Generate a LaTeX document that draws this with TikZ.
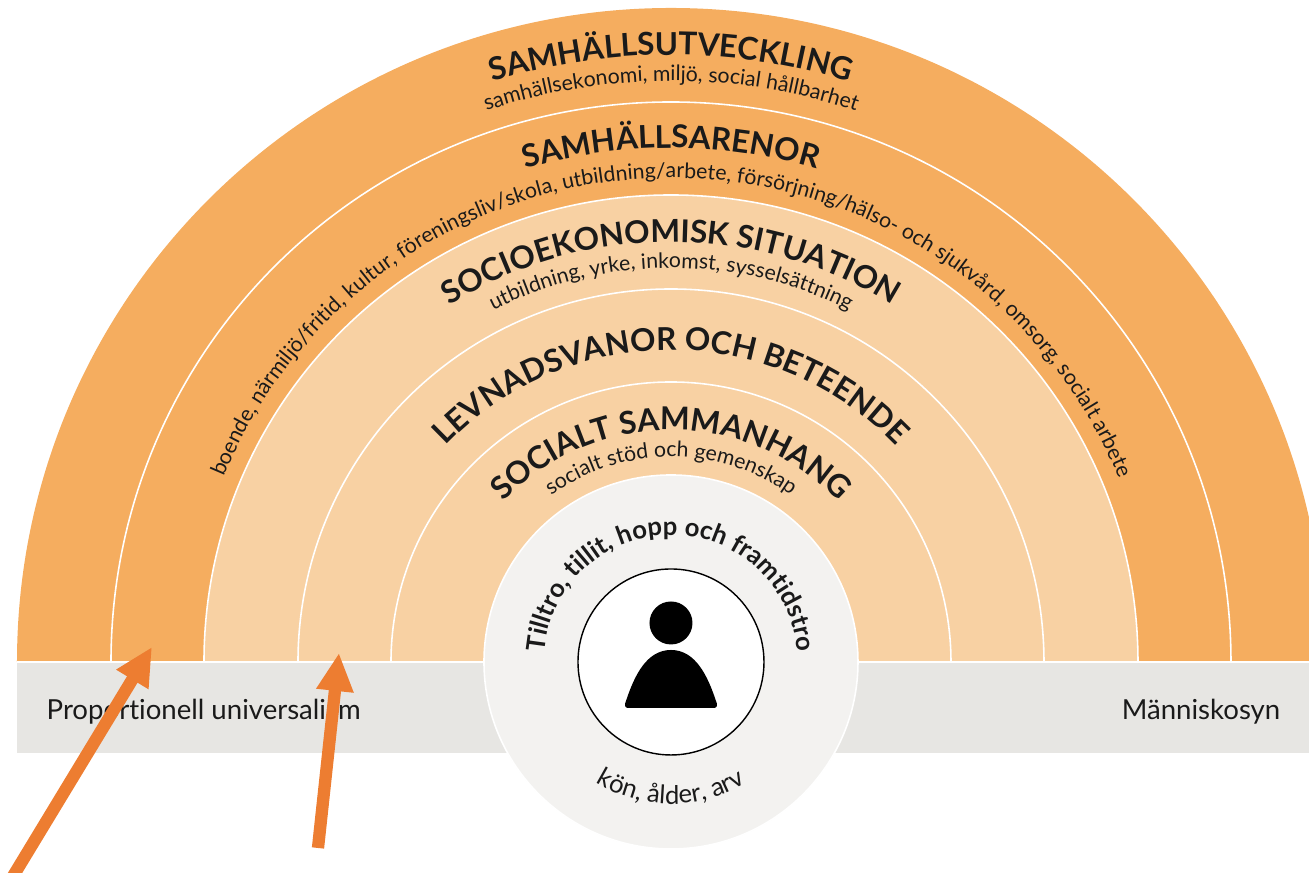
\documentclass[tikz,border=0pt]{standalone}
\usepackage{fontspec}
\setmainfont{Lato}[Ligatures=NoCommon]
\usepackage{xcolor}
\usetikzlibrary{decorations.text,arrows.meta}
\definecolor{darkband}{HTML}{F5AD5F}
\definecolor{lightband}{HTML}{F8D1A3}
\definecolor{greyband}{HTML}{E7E6E3}
\definecolor{palecircle}{HTML}{F3F2F0}
\definecolor{arroworange}{HTML}{ED7D31}
\definecolor{inktext}{HTML}{1A1A1A}
\newcommand{\headfont}{\fontsize{8.95}{10}\selectfont\bfseries}
\newcommand{\subfont}{\fontsize{6.05}{7}\selectfont}
\newcommand{\corefont}{\fontsize{7.3}{8}\selectfont\bfseries}
\tikzset{
  ring/.style={draw=white,line width=0.45pt},
  arclabel/.style={decorate,decoration={text along path,text align=center,text color=inktext,text={#1}}},
  bandlabel/.style={text=inktext,font=\fontsize{7.85}{9}\selectfont,inner sep=0pt},
  marker/.style={draw=arroworange,line width=3.5pt,-{Triangle[length=0.38cm,width=0.35cm]}}
}
\begin{document}
\begin{tikzpicture}
\useasboundingbox (-6.71,-2.11) rectangle (6.38,6.62);
\begin{scope}
\clip (-6.71,-2.11) rectangle (6.38,6.62);
\fill[greyband] (-6.54,-0.91) rectangle (6.38,0);
\fill[darkband] (-6.54,0) arc[start angle=180,end angle=0,radius=6.54] -- cycle;
\draw[ring,fill=darkband] (-5.60,0) arc[start angle=180,end angle=0,radius=5.60] -- cycle;
\draw[ring,fill=lightband] (-4.67,0) arc[start angle=180,end angle=0,radius=4.67] -- cycle;
\draw[ring,fill=lightband] (-3.73,0) arc[start angle=180,end angle=0,radius=3.73] -- cycle;
\draw[ring,fill=lightband] (-2.80,0) arc[start angle=180,end angle=0,radius=2.80] -- cycle;
\draw[white,line width=0.45pt] (-6.54,0) -- (6.38,0);
\end{scope}
\node[circle,ring,fill=palecircle,minimum size=3.74cm,inner sep=0pt] (core) at (0,0) {};
\node[circle,draw=black,fill=white,line width=0.4pt,minimum size=1.86cm,inner sep=0pt] (self) at (0,0) {};
\fill[black] (0,0.39) circle (0.215);
\fill[black] (-0.43,-0.46) -- (0.43,-0.46) .. controls (0.46,-0.46) and (0.47,-0.43) .. (0.45,-0.39)
  .. controls (0.37,-0.15) and (0.25,0.12) .. (0,0.12)
  .. controls (-0.25,0.12) and (-0.37,-0.15) .. (-0.45,-0.39)
  .. controls (-0.47,-0.43) and (-0.46,-0.46) .. (-0.43,-0.46) -- cycle;
\path[arclabel={|\headfont|SAMHÄLLSUTVECKLING}] (-6.07,0) arc[start angle=180,end angle=0,radius=6.07];
\path[arclabel={|\subfont|samhällsekonomi, miljö, social hållbarhet}] (-5.81,0) arc[start angle=180,end angle=0,radius=5.81];
\path[arclabel={|\headfont|SAMHÄLLSARENOR}] (-5.14,0) arc[start angle=180,end angle=0,radius=5.14];
\path[arclabel={|\subfont|boende, närmiljö/fritid, kultur, föreningsliv/skola, utbildning/arbete, försörjning/hälso- och sjukvård, omsorg, socialt arbete}] (-4.84,0) arc[start angle=180,end angle=0,radius=4.84];
\path[arclabel={|\headfont|SOCIOEKONOMISK SITUATION}] (-4.20,0) arc[start angle=180,end angle=0,radius=4.20];
\path[arclabel={|\subfont|utbildning, yrke, inkomst, sysselsättning}] (-3.94,0) arc[start angle=180,end angle=0,radius=3.94];
\path[arclabel={|\headfont|LEVNADSVANOR OCH BETEENDE}] (-3.12,0) arc[start angle=180,end angle=0,radius=3.12];
\path[arclabel={|\headfont|SOCIALT SAMMANHANG}] (-2.32,0) arc[start angle=180,end angle=0,radius=2.32];
\path[arclabel={|\subfont|socialt stöd och gemenskap}] (-2.05,0) arc[start angle=180,end angle=0,radius=2.05];
\path[arclabel={|\corefont|Tilltro, tillit, hopp och framtidstro}] (-1.27,0) arc[start angle=180,end angle=0,radius=1.27];
\path[arclabel={|\fontsize{7.3}{8}\selectfont|kön, ålder, arv}] (-1.42,0) arc[start angle=180,end angle=360,radius=1.42];
\node[bandlabel,anchor=base west] (leftlabel) at (-6.25,-0.58) {Proportionell universalism};
\node[bandlabel,anchor=base east] (rightlabel) at (6.10,-0.58) {Människosyn};
\coordinate (tailleft) at (-6.59,-2.16);
\coordinate (tipleft) at (-5.19,0.15);
\coordinate (tailright) at (-3.53,-1.86);
\coordinate (tipright) at (-3.32,0.09);
\draw[marker] (tailleft) -- (tipleft);
\draw[marker] (tailright) -- (tipright);
\end{tikzpicture}
\end{document}
